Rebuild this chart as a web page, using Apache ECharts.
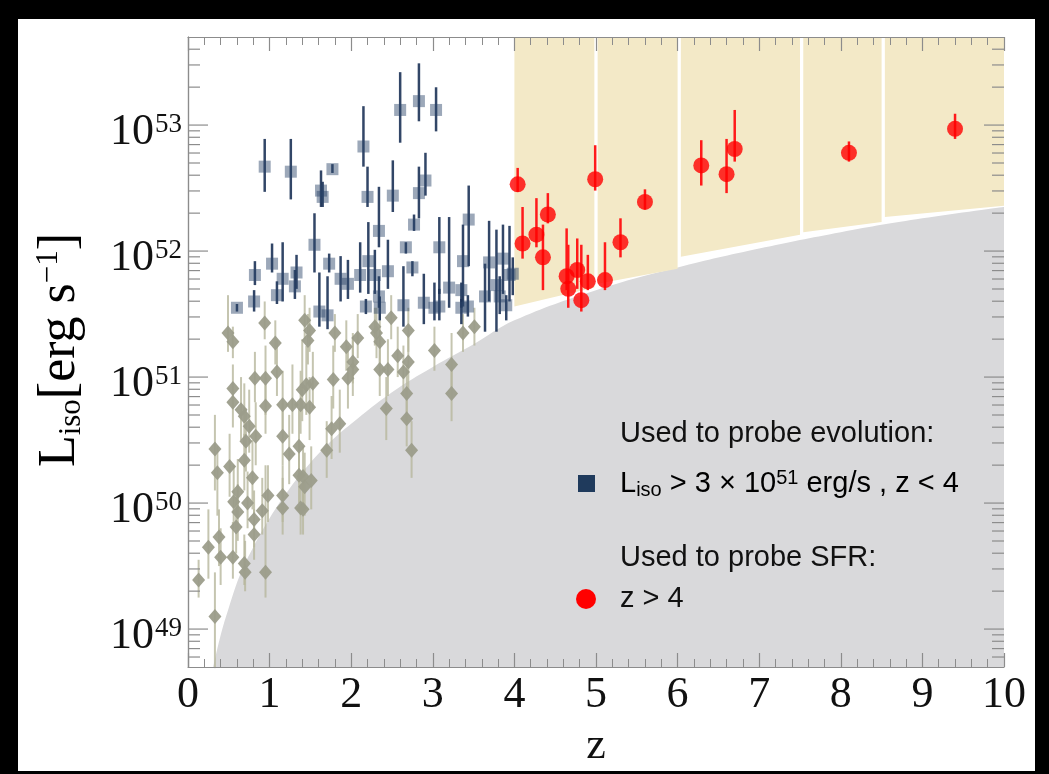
<!DOCTYPE html>
<html>
<head>
<meta charset="utf-8">
<script src="https://cdn.jsdelivr.net/npm/echarts@6/dist/echarts.min.js"></script>
<style>
  html, body { margin: 0; padding: 0; background: #000; }
  #paper { position: absolute; left: 18px; top: 19px; width: 1017px; height: 752px; background: #fff; }
  #chart { position: absolute; left: 0; top: 0; width: 1049px; height: 774px; }
</style>
</head>
<body>
<div id="paper"></div>
<div id="chart"></div>
<script>
// Redshift z and log10 of isotropic peak luminosity L_iso (erg/s).

// Bright bursts used to probe luminosity evolution (L_iso > 3e51, z < 4)
const blueZ = [0.60,0.81,0.82,0.94,1.03,1.09,1.16,1.26,1.31,1.33,1.55,1.61,1.63,1.65,1.71,1.73,1.77,1.87,1.96,2.11,
               2.15,2.18,2.20,2.21,2.29,2.34,2.35,2.34,2.45,2.51,2.60,2.64,2.67,2.75,2.77,2.83,2.83,2.89,2.91,3.02,
               3.04,3.08,3.08,3.20,3.35,3.37,3.35,3.43,3.44,3.64,3.69,3.78,3.82,3.86,3.90,3.94,3.98];
const blueLogL = [51.55,51.60,51.81,52.67,51.90,51.65,51.78,52.63,51.72,51.83,52.05,51.52,52.48,52.43,51.49,51.90,52.65,51.78,51.74,51.81,
                  52.83,51.56,52.43,51.92,51.81,52.16,51.55,51.64,51.84,52.44,53.12,51.57,52.03,51.87,52.21,53.19,52.46,51.59,52.56,51.55,
                  53.12,51.56,52.03,51.71,51.69,51.92,51.55,51.56,52.25,51.64,51.91,51.73,51.64,51.94,51.57,51.81,51.82];
const blueLogLo = [51.52,51.52,51.73,52.47,51.83,51.58,51.60,52.41,51.62,51.70,51.83,51.40,52.35,52.35,51.38,51.83,52.62,51.60,51.62,51.67,
                   52.67,51.50,52.35,51.66,51.66,52.03,51.45,51.55,51.70,52.31,52.86,51.40,51.98,51.80,52.16,53.03,52.26,51.42,52.44,51.45,
                   52.95,51.45,51.66,51.55,51.55,51.56,51.42,51.48,51.88,51.36,51.60,51.36,51.50,51.66,51.45,51.60,51.65];
const blueLogHi = [51.58,51.69,51.92,52.89,52.06,51.76,52.07,52.89,51.85,51.97,52.30,51.83,52.64,52.55,51.80,51.98,52.69,51.96,51.93,52.07,
                   53.15,51.62,52.67,52.23,52.01,52.51,51.64,51.80,52.09,52.72,53.42,51.88,52.07,51.92,52.29,53.49,52.67,51.82,52.78,51.75,
                   53.30,51.70,52.27,52.27,51.75,52.21,51.62,51.65,52.52,51.90,52.24,52.17,51.80,52.21,51.65,52.20,51.95];

// Remaining (fainter) bursts
const grayZ = [0.13,0.25,0.33,0.33,0.36,0.38,0.40,0.49,0.51,0.55,0.55,0.55,0.55,0.56,0.59,0.61,0.61,0.65,0.69,0.69,
               0.69,0.70,0.71,0.73,0.75,0.79,0.81,0.81,0.82,0.83,0.91,0.94,0.95,0.95,0.95,0.98,1.07,1.09,1.16,1.16,
               1.16,1.16,1.24,1.28,1.36,1.36,1.38,1.38,1.40,1.41,1.41,1.43,1.43,1.45,1.47,1.49,1.49,1.51,1.53,1.70,
               1.76,1.78,1.80,1.86,1.94,1.96,2.02,2.02,2.08,2.29,2.31,2.35,2.35,2.43,2.45,2.49,2.57,2.64,2.70,2.70,
               2.68,2.68,2.74,3.02,3.23,3.23,3.37,3.51];
const grayLogL = [49.39,49.65,49.10,50.43,50.24,49.73,49.57,51.35,50.29,51.28,50.91,50.80,49.57,50.01,49.81,50.09,49.93,50.74,50.69,50.34,
                  49.52,49.45,50.49,50.00,50.61,50.20,49.87,49.75,50.99,50.53,49.94,51.43,50.99,50.77,49.45,50.06,51.27,51.04,50.78,50.53,
                  50.06,49.96,50.39,50.78,50.45,50.22,50.78,49.96,50.90,50.21,49.95,50.13,51.45,50.94,51.29,51.37,50.76,50.18,50.95,50.42,
                  50.59,50.98,51.35,50.63,51.24,50.99,51.12,51.06,51.31,51.40,51.35,51.28,51.06,50.75,51.06,51.47,51.17,51.04,51.37,51.12,
                  50.87,50.67,50.42,51.21,51.10,50.87,51.35,51.40];
const grayLogLo = [49.25,49.40,48.69,50.10,49.90,49.50,49.35,51.20,50.05,51.15,50.75,50.60,49.40,49.80,49.60,49.90,49.70,50.50,50.45,50.10,
                   49.35,49.30,50.25,49.80,50.40,49.95,49.65,49.55,50.80,50.30,49.75,51.30,50.70,50.55,49.25,49.85,51.10,50.85,50.55,50.30,
                   49.85,49.75,50.15,50.55,50.20,50.00,50.55,49.75,50.65,50.00,49.75,49.90,51.30,50.70,51.10,51.20,50.50,49.95,50.75,50.20,
                   50.35,50.75,51.20,50.40,51.05,50.75,50.95,50.85,51.15,51.25,51.15,51.10,50.85,50.50,50.85,51.30,51.00,50.85,51.20,50.90,
                   50.65,50.45,50.20,51.05,50.90,50.65,51.20,51.25];
const grayLogHi = [49.55,49.95,49.45,50.70,50.45,49.95,49.80,51.65,50.55,51.40,51.10,50.95,49.85,50.30,50.05,50.35,50.15,51.00,50.95,50.55,
                   49.75,49.70,50.75,50.25,50.90,50.50,50.10,49.95,51.20,50.80,50.20,51.60,51.25,51.00,50.30,50.30,51.45,51.30,51.05,50.80,
                   50.30,50.20,50.70,51.10,50.75,50.50,51.05,50.20,51.30,50.45,50.15,50.40,51.65,51.25,51.50,51.55,51.00,50.45,51.20,50.65,
                   50.85,51.25,51.50,50.90,51.45,51.25,51.35,51.30,51.50,51.55,51.55,51.50,51.30,51.00,51.30,51.65,51.40,51.25,51.55,51.35,
                   51.10,50.90,50.65,51.40,51.35,51.10,51.50,51.55];

// High-redshift bursts used to probe the star formation rate (z > 4)
const redZ = [4.04,4.10,4.27,4.35,4.41,4.64,4.66,4.77,4.82,4.90,4.99,5.11,5.30,5.60,6.29,6.60,6.70,8.10,9.40];
const redLogL = [52.53,52.06,52.13,51.95,52.29,51.80,51.70,51.85,51.61,51.76,52.57,51.77,52.07,52.39,52.68,52.61,52.81,52.78,52.97];
const redLogLo = [52.47,51.94,52.03,51.69,52.22,51.69,51.55,51.70,51.52,51.69,52.48,51.69,51.95,52.33,52.52,52.46,52.71,52.71,52.89];
const redLogHi = [52.66,52.35,52.42,52.21,52.46,52.18,52.05,52.10,52.05,51.97,52.84,52.07,52.26,52.49,52.88,52.89,53.12,52.87,53.09];

// Detection threshold: log10 L_lim along z (grey exclusion region lies below)
const limitZ = [0.31,0.40,0.50,0.65,0.80,1.00,1.25,1.50,1.75,2.00,2.50,3.00,3.50,4.00,5.00,6.00,7.00,8.00,9.00,10.00];
const limitLogL = [48.70,48.95,49.17,49.45,49.65,49.88,50.12,50.32,50.49,50.63,50.88,51.08,51.26,51.45,51.69,51.87,52.02,52.15,52.26,52.35];

// Redshift bins used for the SFR test: [z start, z end], lower edge log10 L at each end
const binStart = [4.00, 5.02, 6.04, 7.54, 8.54];
const binEnd   = [4.98, 6.00, 7.50, 8.50, 10.00];
const binLogLowLeft  = [51.56, 51.74, 51.955, 52.15, 52.27];
const binLogLowRight = [51.71, 51.86, 52.13, 52.23, 52.36];

// Axis ranges and tick labels
const zMin = 0, zMax = 10;
const lMin = 5e48, lMax = 5e53;
const xTickLabels = ['0','1','2','3','4','5','6','7','8','9','10'];
const yTickExponents = [49, 50, 51, 52, 53];

const pow = v => Math.pow(10, v);
const serif = 'Liberation Serif';
const sans = 'Liberation Sans';
const tickColor = '#8c8c8c';
const ink = '#111';

function points(zs, ls) { return zs.map((z, i) => [z, pow(ls[i])]); }
function bars(zs, lo, hi) { return zs.map((z, i) => [z, pow(lo[i]), pow(hi[i])]); }

function barRenderer(color, width) {
  return function (params, api) {
    const a = api.coord([api.value(0), api.value(1)]);
    const b = api.coord([api.value(0), api.value(2)]);
    return { type: 'line', shape: { x1: a[0], y1: a[1], x2: b[0], y2: b[1] },
             style: { stroke: color, lineWidth: width } };
  };
}

// log-axis tick marks (decades and 2..9 sub-decades) on both vertical frame edges
const yTickData = [];
for (let e = 48; e <= 53; e++) {
  for (let k = 1; k <= 9; k++) {
    const v = k * Math.pow(10, e);
    if (v > lMin * 1.0001 && v < lMax * 0.9999) yTickData.push([zMin, v, k === 1 ? 1 : 0]);
  }
}

const bandData = binStart.map((z, i) => [z, binEnd[i], pow(binLogLowLeft[i]), pow(binLogLowRight[i])]);

const chart = echarts.init(document.getElementById('chart'));

const xAxisBase = {
  type: 'value', min: zMin, max: zMax, interval: 1, z: 10,
  splitLine: { show: false },
  axisLine: { show: true, lineStyle: { color: tickColor, width: 1.2 } },
  axisTick: { show: true, inside: true, length: 14, lineStyle: { color: tickColor, width: 1.2 } },
  minorTick: { show: true, splitNumber: 5, length: 8, lineStyle: { color: tickColor, width: 1 } }
};
const yAxisBase = {
  type: 'log', logBase: 10, min: lMin, max: lMax, z: 10,
  splitLine: { show: false },
  axisLine: { show: true, lineStyle: { color: tickColor, width: 1.2 } },
  axisTick: { show: false },
  minorTick: { show: false }
};

chart.setOption({
  animation: false,
  grid: { left: 188, top: 37, width: 816, height: 630, show: false },
  xAxis: [
    Object.assign({}, xAxisBase, {
      position: 'bottom',
      name: 'z', nameLocation: 'middle', nameGap: 57,
      nameTextStyle: { fontFamily: serif, fontSize: 44, color: ink },
      axisLabel: {
        margin: 6, fontFamily: serif, fontSize: 44, color: ink,
        formatter: v => xTickLabels[Math.round(v)] || ''
      }
    }),
    Object.assign({}, xAxisBase, { position: 'top', axisLabel: { show: false } })
  ],
  yAxis: [
    Object.assign({}, yAxisBase, {
      position: 'left',
      axisLabel: {
        margin: 6, showMinLabel: false, showMaxLabel: false,
        formatter: v => {
          const e = Math.log10(v);
          const r = Math.round(e);
          if (Math.abs(e - r) > 1e-6 || yTickExponents.indexOf(r) < 0) return '';
          return '{b|10}{s|' + r + '}';
        },
        rich: {
          b: { fontFamily: serif, fontSize: 44, color: ink, lineHeight: 44, padding: [14, 0, 0, 0] },
          s: { fontFamily: serif, fontSize: 27, color: ink, lineHeight: 28, padding: [8, 0, 0, 1], verticalAlign: 'top' }
        }
      }
    }),
    Object.assign({}, yAxisBase, { position: 'right', axisLabel: { show: false } })
  ],
  graphic: [
    {
      type: 'text', x: 60, y: 350, rotation: Math.PI / 2, z: 20,
      style: {
        text: '{m|L}{sub|iso}{m|[erg s}{sup|\u22121}{m|]}',
        align: 'center', verticalAlign: 'middle',
        rich: {
          m: { fontFamily: serif, fontSize: 52, color: ink, lineHeight: 54 },
          sub: { fontFamily: serif, fontSize: 31, color: ink, lineHeight: 24, verticalAlign: 'bottom' },
          sup: { fontFamily: serif, fontSize: 31, color: ink, lineHeight: 30, verticalAlign: 'top' }
        }
      }
    },
    { type: 'text', x: 620, y: 434, z: 20,
      style: { text: 'Used to probe evolution:', font: '29px "Liberation Sans"', fill: ink, verticalAlign: 'middle' } },
    { type: 'rect', shape: { x: 578, y: 475, width: 17, height: 17 }, z: 20, style: { fill: '#1f3a5c' } },
    { type: 'text', x: 620, y: 484, z: 20,
      style: {
        text: '{n|L}{sub|iso}{n| > 3 \u00d7 10}{sup|51}{n| erg/s , z < 4}',
        verticalAlign: 'middle',
        rich: {
          n: { fontFamily: sans, fontSize: 29, color: ink, lineHeight: 32 },
          sub: { fontFamily: sans, fontSize: 20, color: ink, lineHeight: 15, verticalAlign: 'bottom' },
          sup: { fontFamily: sans, fontSize: 20, color: ink, lineHeight: 22, verticalAlign: 'top' }
        }
      }
    },
    { type: 'text', x: 620, y: 558, z: 20,
      style: { text: 'Used to probe SFR:', font: '29px "Liberation Sans"', fill: ink, verticalAlign: 'middle' } },
    { type: 'circle', shape: { cx: 586, cy: 599, r: 10 }, z: 20, style: { fill: '#ff0000' } },
    { type: 'text', x: 620, y: 599, z: 20,
      style: { text: 'z > 4', font: '29px "Liberation Sans"', fill: ink, verticalAlign: 'middle' } }
  ],
  series: [
    {
      name: 'threshold', type: 'line', data: points(limitZ, limitLogL),
      smooth: 0.4, symbol: 'none', z: 1,
      lineStyle: { width: 0 },
      areaStyle: { color: '#d9d9db', opacity: 1, origin: 'start' }
    },
    {
      name: 'bins', type: 'custom', data: bandData, z: 2,
      encode: { x: [0, 1], y: [2, 3] },
      renderItem: (params, api) => {
        const p1 = api.coord([api.value(0), lMax]);
        const p2 = api.coord([api.value(1), lMax]);
        const p3 = api.coord([api.value(1), api.value(3)]);
        const p4 = api.coord([api.value(0), api.value(2)]);
        return { type: 'polygon', shape: { points: [p1, p2, p3, p4] }, style: { fill: '#f3e9c7' } };
      }
    },
    {
      name: 'grayBars', type: 'custom', data: bars(grayZ, grayLogLo, grayLogHi), z: 3,
      encode: { x: 0, y: [1, 2] }, renderItem: barRenderer('rgba(182,183,156,0.8)', 2)
    },
    {
      name: 'gray', type: 'scatter', data: points(grayZ, grayLogL), z: 4,
      symbol: 'diamond', symbolSize: [13, 15],
      itemStyle: { color: '#9c9d8b', opacity: 0.95 }
    },
    {
      name: 'blueBars', type: 'custom', data: bars(blueZ, blueLogLo, blueLogHi), z: 5,
      encode: { x: 0, y: [1, 2] }, renderItem: barRenderer('rgba(28,50,86,0.9)', 2.5)
    },
    {
      name: 'blue', type: 'scatter', data: points(blueZ, blueLogL), z: 6,
      symbol: 'rect', symbolSize: 12,
      itemStyle: { color: 'rgba(42,68,104,0.58)' }
    },
    {
      name: 'redBars', type: 'custom', data: bars(redZ, redLogLo, redLogHi), z: 7,
      encode: { x: 0, y: [1, 2] }, renderItem: barRenderer('#ff1a1a', 2.5)
    },
    {
      name: 'red', type: 'scatter', data: points(redZ, redLogL), z: 8,
      symbol: 'circle', symbolSize: 16,
      itemStyle: { color: '#ff0000' }
    },
    {
      name: 'yTicks', type: 'custom', data: yTickData, z: 9, silent: true,
      encode: { x: 0, y: 1 },
      renderItem: (params, api) => {
        const v = api.value(1);
        const len = api.value(2) ? 20 : 12;
        const p = api.coord([zMin, v]);
        const q = api.coord([zMax, v]);
        const st = { stroke: tickColor, lineWidth: 1.2 };
        return { type: 'group', children: [
          { type: 'line', shape: { x1: p[0], y1: p[1], x2: p[0] + len, y2: p[1] }, style: st },
          { type: 'line', shape: { x1: q[0] - len, y1: q[1], x2: q[0], y2: q[1] }, style: st }
        ] };
      }
    }
  ]
});
</script>
</body>
</html>
